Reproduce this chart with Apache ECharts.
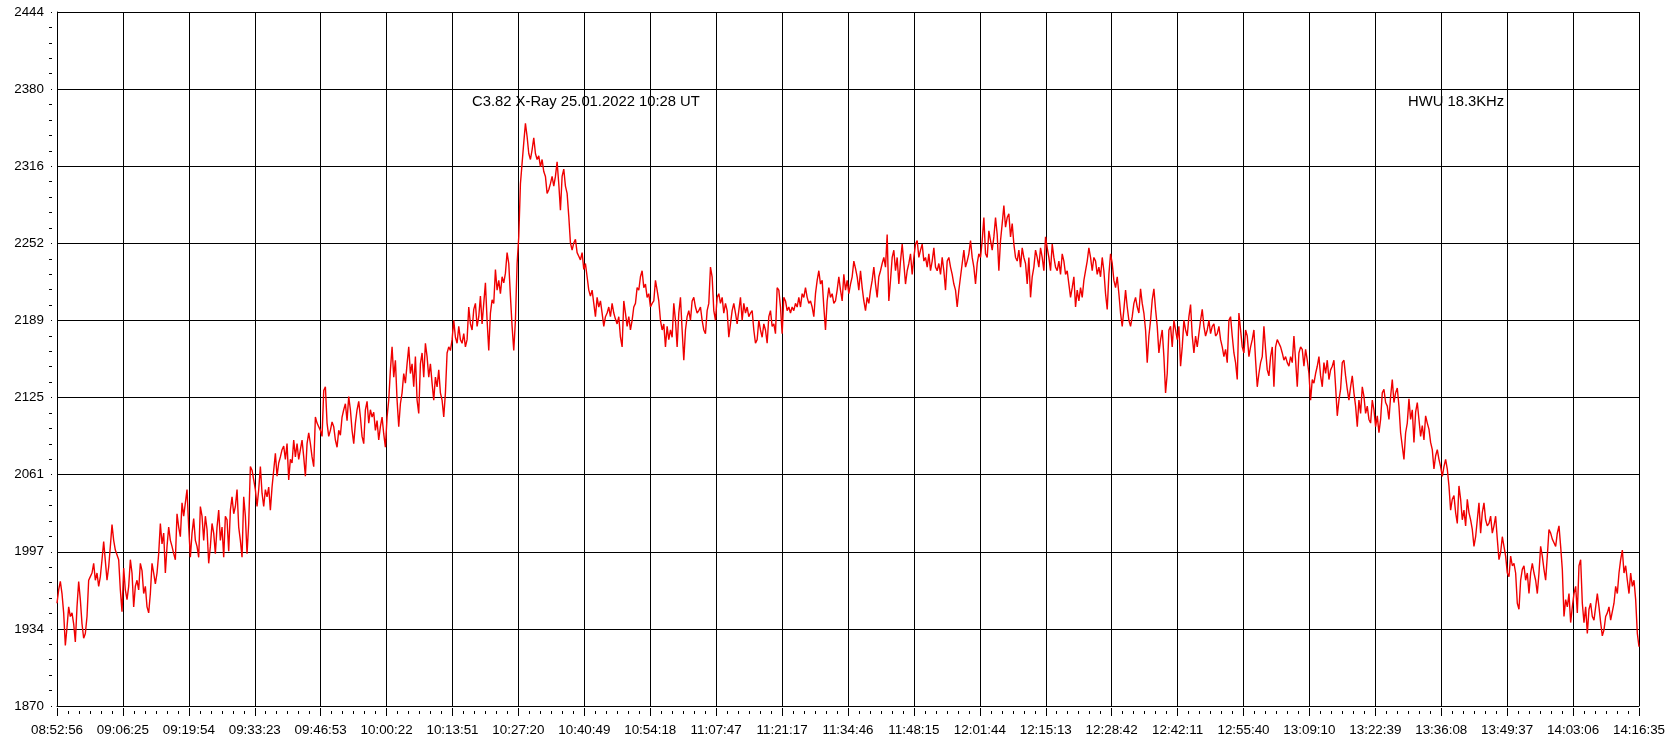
<!DOCTYPE html>
<html>
<head>
<meta charset="utf-8">
<script src="https://cdn.jsdelivr.net/npm/echarts@6/dist/echarts.min.js"></script>
<style>
html,body{margin:0;padding:0;background:#fff;}
#chart{width:1671px;height:746px;}
</style>
</head>
<body>
<div id="chart"></div>
<script>
// Tick labels
const timeLabels = ['08:52:56','09:06:25','09:19:54','09:33:23','09:46:53','10:00:22','10:13:51','10:27:20','10:40:49','10:54:18','11:07:47','11:21:17','11:34:46','11:48:15','12:01:44','12:15:13','12:28:42','12:42:11','12:55:40','13:09:10','13:22:39','13:36:08','13:49:37','14:03:06','14:16:35'];
const valueLabels = ['1870','1934','1997','2061','2125','2189','2252','2316','2380','2444'];
const valueMin = 1870;
const valueMax = 2444;
const totalSeconds = 19419; // 08:52:56 -> 14:16:35

// Annotation texts
const flareText = 'C3.82 X-Ray 25.01.2022 10:28 UT';
const stationText = 'HWU 18.3KHz';

const seg1 = [1955,1966,1973,1963,1947,1920,1935,1952,1944,1947,
1938,1923,1952,1973,1958,1938,1926,1930,1944,1974,
1977,1980,1988,1974,1980,1969,1977,1991,2006,2006,
1974,1985,2002,2020,2007,1999,2000,1991,1966,1948,
1984,1966,1958,1969,1991,1980,1952,1969,1974,1966,
1988,1982,1963,1969,1952,1947,1963,1988,1980,1971,
1980,1996,2021,2004,2013,1980,2002,2018,2007,2002,
1996,1991,2029,2018,2010,2038,2027,2038,2049,2018,
1993,2013,2025,2007,2002,1993,2035,2027,2007,2027,
2016,1988,2002,2021,2013,1996,2018,2032,2007,2018,
1993,2027,2024,1998,2032,2043,2029,2035,2049,2018,
2007,1993,2043,2027,1996,2021,2068,2065,2057,2049,
2035,2049,2068,2046,2035,2049,2043,2051,2032,2051,
2065,2079,2060,2071,2076,2082,2085,2074,2087,2057,
2074,2071,2090,2076,2087,2074,2082,2090,2076,2060,
2087,2096,2087,2076,2068,2109,2104,2101,2098,2093,
2131,2134];
const seg2 = [2104,2093,2098,2105,2101,2090,2084,2098,2094,2109,
2115,2120,2106,2126,2115,2098,2087,2104,2115,2122,
2109,2093,2087,2115,2122,2104,2115,2109,2113,2098,
2106,2090,2101,2109,2095,2084,2109,2123,2148,2167,
2142,2156,2123,2101,2120,2129,2145,2137,2153,2167,
2145,2153,2134,2159,2123,2112,2153,2162,2142,2170,
2159,2142,2153,2137,2123,2142,2134,2148,2129,2123,
2109,2129,2162,2167,2164,2173,2189,2175,2170,2184,
2173,2170,2178,2167,2173,2200,2186,2181,2198,2203,
2184,2192,2209,2186,2203,2220,2189,2164,2195,2206,
2203,2231,2214,2222,2211,2225,2220,2228,2245,2236,
2209,2184,2164,2189,2236,2258,2302,2319,2336,2352,
2341,2327,2322,2330,2340,2327,2322,2325,2316,2322,
2312,2308,2294,2297,2302,2308,2300,2308,2320,2302,
2280,2308,2314,2300,2294,2275,2253,2247,2253,2256,
2245,2242,2239,2245,2231,2236,2225,2214,2209];
const seg3 = [2214,2203,2192,2208,2200,2205,2195,2184,2192,2195,
2200,2192,2203,2195,2190,2186,2192,2175,2167,2205,
2195,2184,2192,2181,2189,2200,2203,2216,2214,2225,
2230,2216,2219,2208,2211,2200,2203,2205,2222,2214,
2205,2189,2181,2186,2167,2184,2173,2181,2175,2203,
2189,2167,2195,2208,2181,2156,2181,2192,2197,2189,
2205,2208,2200,2195,2197,2200,2189,2181,2178,2197,
2203,2233,2225,2197,2189,2208,2211,2203,2208,2195,
2203,2197,2175,2186,2197,2203,2195,2186,2197,2208,
2189,2203,2195,2200,2192,2195,2197,2181,2170,2173,
2189,2181,2175,2186,2181,2170,2192,2197,2184,2186,
2178,2216,2214,2200,2178,2208,2205,2197,2200,2195,
2200,2197,2203,2200,2208,2200,2211,2208,2216,2208,
2203,2205,2200,2192,2211,2222,2230,2219,2222,2200,
2181,2205,2216,2208,2211,2203,2205,2214,2225,2214,
2205,2227,2214,2222,2211,2219,2225,2238,2232];
const seg4 = [2225,2214,2230,2216,2205,2197,2208,2203,2214,2222,
2233,2219,2208,2225,2230,2236,2241,2233,2260,2205,
2222,2241,2247,2230,2241,2219,2238,2252,2236,2219,
2230,2236,2244,2227,2241,2252,2255,2241,2247,2252,
2238,2241,2233,2244,2230,2238,2249,2233,2230,2236,
2227,2241,2230,2214,2238,2241,2233,2227,2219,2214,
2200,2214,2225,2236,2247,2233,2238,2244,2255,2241,
2233,2219,2236,2244,2241,2255,2274,2244,2241,2263,
2255,2247,2258,2274,2260,2230,2255,2269,2284,2266,
2274,2277,2258,2269,2252,2241,2238,2247,2233,2249,
2241,2236,2219,2241,2208,2225,2233,2247,2241,2233,
2249,2241,2230,2258,2249,2241,2230,2252,2241,2233,
2230,2238,2227,2244,2238,2227,2230,2219,2208,2216,
2225,2200,2214,2205,2216,2208,2222,2230,2238,2249,
2241,2230,2241,2238,2227,2233,2225,2241,2230,2211,
2198,2227,2244,2236,2222,2216,2225,2211,2195];
const seg5 = [2184,2198,2214,2200,2189,2184,2192,2203,2208,2200,
2195,2215,2203,2195,2181,2154,2176,2189,2206,2215,
2198,2184,2162,2173,2181,2159,2129,2145,2181,2184,
2167,2189,2181,2173,2184,2151,2167,2189,2181,2176,
2192,2202,2176,2162,2176,2167,2178,2189,2198,2184,
2176,2181,2189,2178,2184,2186,2176,2178,2184,2173,
2167,2159,2165,2154,2189,2192,2176,2162,2154,2140,
2195,2181,2167,2162,2181,2176,2159,2167,2173,2181,
2156,2134,2145,2154,2159,2184,2165,2148,2143,2159,
2167,2134,2167,2173,2170,2167,2162,2156,2159,2154,
2151,2159,2154,2176,2156,2134,2162,2167,2165,2151,
2165,2156,2145,2123,2140,2137,2145,2151,2159,2143,
2134,2154,2145,2156,2140,2148,2151,2156,2134,2110,
2123,2132,2154,2156,2143,2132,2123,2134,2143,2129,
2118,2101,2123,2112,2134,2126,2112,2118,2107,2104,
2123,2115,2101,2110,2096,2107,2129,2132,2121];
const seg6 = [2118,2107,2126,2140,2121,2129,2133,2118,2096,2085,
2074,2096,2104,2124,2107,2115,2088,2113,2121,2107,
2093,2102,2090,2110,2104,2099,2088,2082,2066,2077,
2082,2074,2068,2060,2068,2074,2066,2052,2032,2041,
2044,2030,2021,2052,2041,2024,2032,2019,2041,2030,
2024,2016,2002,2010,2024,2038,2013,2030,2038,2024,
2019,2021,2027,2013,2019,2027,2008,1991,1997,2010,
2002,1994,1980,1977,1994,1986,1988,1980,1955,1950,
1974,1983,1986,1974,1980,1963,1980,1988,1980,1974,
1963,1980,2002,1994,1983,1974,1994,2016,2013,2008,
2005,2002,2013,2019,2002,1983,1944,1958,1952,1963,
1939,1952,1963,1969,1947,1986,1991,1955,1939,1952,
1930,1950,1955,1944,1941,1952,1963,1952,1939,1928,
1933,1944,1947,1952,1941,1941,1955,1969,1963,1980,
1991,1999,1980,1986,1974,1963,1980,1969,1974,1958,
1930,1919];

const signal = seg1.concat(seg2, seg3, seg4, seg5, seg6);
const sampleStep = totalSeconds / (signal.length - 1);
const seriesData = signal.map((v, i) => [i * sampleStep, v]);
const xInterval = totalSeconds / (timeLabels.length - 1);
const yCount = valueLabels.length - 1;

const FONT = '"Liberation Sans", Arial, sans-serif';
const BLACK = '#000000';

const chart = echarts.init(document.getElementById('chart'), null, {renderer: 'canvas'});
chart.setOption({
  animation: false,
  backgroundColor: '#ffffff',
  grid: {left: 57, right: 32, top: 12, bottom: 40, show: false},
  xAxis: [
    {
      type: 'value', min: 0, max: totalSeconds, interval: xInterval,
      axisLine: {show: true, onZero: false, lineStyle: {color: BLACK, width: 1}},
      axisTick: {show: false}, axisLabel: {show: false},
      splitLine: {show: true, lineStyle: {color: BLACK, width: 1}}
    },
    {
      type: 'value', position: 'bottom', offset: 2, min: 0, max: totalSeconds, interval: xInterval,
      axisLine: {show: false, onZero: false},
      axisTick: {show: true, length: 8, lineStyle: {color: BLACK, width: 1}},
      axisLabel: {show: true, margin: 16, color: BLACK, fontSize: 13.4, fontFamily: FONT,
        formatter: v => timeLabels[Math.round(v / xInterval)]},
      splitLine: {show: false}
    },
    {
      type: 'value', position: 'bottom', offset: 5, min: 0, max: totalSeconds, interval: xInterval,
      axisLine: {show: false, onZero: false},
      axisTick: {show: false}, axisLabel: {show: false}, splitLine: {show: false},
      minorTick: {show: true, splitNumber: 6, length: 3, lineStyle: {color: BLACK, width: 1}}
    }
  ],
  yAxis: [
    {
      type: 'value', min: 0, max: yCount, interval: 1, position: 'left',
      axisLine: {show: true, onZero: false, lineStyle: {color: BLACK, width: 1}},
      axisTick: {show: false}, axisLabel: {show: false},
      splitLine: {show: true, lineStyle: {color: BLACK, width: 1}}
    },
    {
      type: 'value', min: 0, max: yCount, interval: 1, position: 'left', offset: 5,
      axisLine: {show: false, onZero: false},
      axisTick: {show: true, length: 1, lineStyle: {color: BLACK, width: 1}},
      minorTick: {show: true, splitNumber: 5, length: 3, lineStyle: {color: BLACK, width: 1}},
      axisLabel: {show: true, margin: 8, color: BLACK, fontSize: 13.4, fontFamily: FONT,
        formatter: v => valueLabels[Math.round(v)]},
      splitLine: {show: false}
    },
    {
      type: 'value', min: valueMin, max: valueMax, show: false,
      splitLine: {show: false}
    }
  ],
  series: [{
    type: 'line', xAxisIndex: 0, yAxisIndex: 2,
    data: seriesData, showSymbol: false, symbol: 'none',
    lineStyle: {color: '#f00000', width: 1.4},
    z: 3
  }],
  graphic: [
    {type: 'text', x: 472, y: 102, z: 1,
      style: {text: flareText, fill: BLACK, fontSize: 14.8, fontFamily: FONT, verticalAlign: 'middle'}},
    {type: 'text', x: 1408, y: 102, z: 1,
      style: {text: stationText, fill: BLACK, fontSize: 14.8, fontFamily: FONT, verticalAlign: 'middle'}}
  ]
});
</script>
</body>
</html>
